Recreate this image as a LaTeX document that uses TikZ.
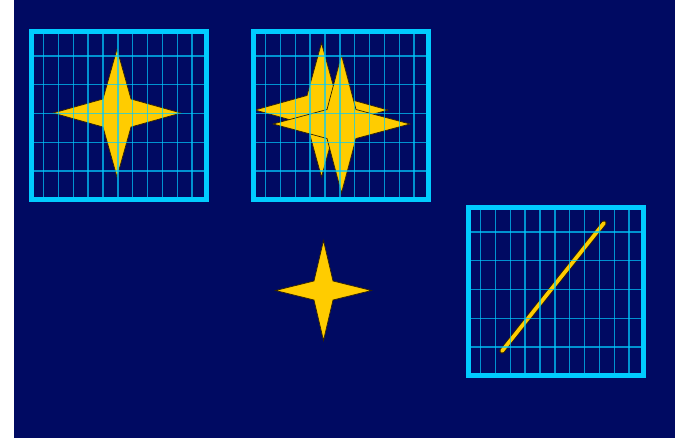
\documentclass[tikz,border=0pt]{standalone}
\definecolor{slidenavy}{RGB}{0,10,98}
\definecolor{framecyan}{RGB}{0,204,255}
\definecolor{staryellow}{RGB}{255,204,0}
\definecolor{staredge}{RGB}{50,35,0}

\tikzset{
  frameline/.style={draw=framecyan, line width=4.3pt},
  gridline/.style={draw=framecyan, draw opacity=0.7, line width=1.2pt},
  starfill/.style={fill=staryellow, draw=staredge, line width=0.6pt, line join=miter},
}

% centre x, centre y, half width, half height, waist
\newcommand{\fourstar}[5]{%
  \path[starfill] (#1,#2-#4) -- (#1+#5,#2-#5) -- (#1+#3,#2) -- (#1+#5,#2+#5)
    -- (#1,#2+#4) -- (#1-#5,#2+#5) -- (#1-#3,#2) -- (#1-#5,#2-#5) -- cycle;}

% outer top-left corner of a framed grid
\newcommand{\gridbox}[2]{%
  \foreach \i in {0,...,10}
    \draw[gridline] ({#1+14.6+14.85*\i},#2) -- ++(0,173);
  \foreach \j in {0,...,4}
    \draw[gridline] (#1,{#2+27+28.75*\j}) -- ++(180,0);
  \draw[frameline] (#1+2.5,#2+2.5) rectangle (#1+177.5,#2+170.5);}

\begin{document}
\begin{tikzpicture}[x=0.03cm, y=-0.03cm]
  \useasboundingbox (0,0) rectangle (675,438);
  % Background
  \fill[white] (0,0) rectangle (675,438);
  \fill[slidenavy] (14,0) rectangle (675,438);
  % First box
  \fourstar{117}{113}{64}{64}{14}
  \gridbox{29}{29}
  % Second box
  \fourstar{321.5}{110}{66.5}{67}{14.5}
  \fourstar{341.5}{124}{68.5}{69}{14.5}
  \gridbox{251}{29}
  % Loose star
  \fourstar{323.5}{290.5}{48}{50}{9.5}
  % Third box
  \coordinate (linestart) at (502,351);
  \coordinate (lineend) at (604,223);
  \draw[staredge, line width=4.6pt, line cap=round] (linestart) -- (lineend);
  \draw[staryellow, line width=3.2pt, line cap=round] (linestart) -- (lineend);
  \gridbox{466}{205}
\end{tikzpicture}
\end{document}
